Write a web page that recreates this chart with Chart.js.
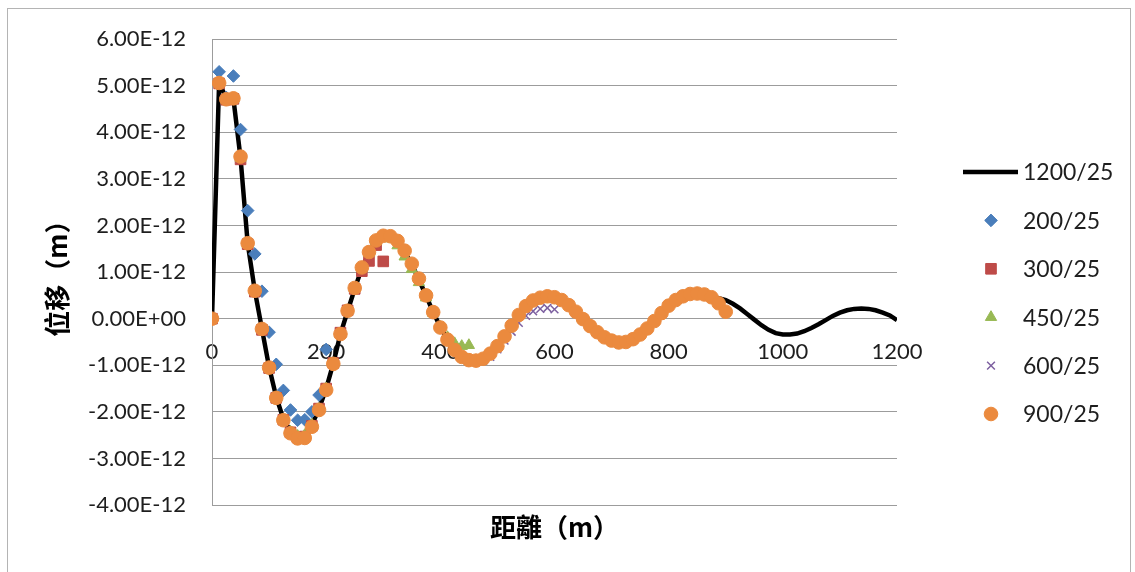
<!DOCTYPE html>
<html>
<head>
<meta charset="utf-8">
<title>位移 - 距離</title>
<script src="https://cdn.jsdelivr.net/npm/chart.js"></script>
<style>
  html, body { margin: 0; padding: 0; background: #fff; overflow: hidden; }
  #wrap { position: relative; width: 1135px; height: 572px; }
</style>
</head>
<body>
<div id="wrap"><canvas id="dispChart" width="1135" height="572"></canvas></div>
<script>
// distance (m) of every sample point, 12.5 m apart
const distance = [0, 12.5, 25, 37.5, 50, 62.5, 75, 87.5, 100, 112.5, 125, 137.5, 150, 162.5, 175, 187.5,
  200, 212.5, 225, 237.5, 250, 262.5, 275, 287.5, 300, 312.5, 325, 337.5, 350, 362.5, 375, 387.5,
  400, 412.5, 425, 437.5, 450, 462.5, 475, 487.5, 500, 512.5, 525, 537.5, 550, 562.5, 575, 587.5,
  600, 612.5, 625, 637.5, 650, 662.5, 675, 687.5, 700, 712.5, 725, 737.5, 750, 762.5, 775, 787.5,
  800, 812.5, 825, 837.5, 850, 862.5, 875, 887.5, 900, 912.5, 925, 937.5, 950, 962.5, 975, 987.5,
  1000, 1012.5, 1025, 1037.5, 1050, 1062.5, 1075, 1087.5, 1100, 1112.5, 1125, 1137.5, 1150, 1162.5,
  1175, 1187.5, 1200];

// displacement values, in units of 1E-12 m
const disp1200 = [0, 5.08, 4.72, 4.72, 3.45, 1.62, 0.60, -0.22, -1.04, -1.68, -2.15, -2.42, -2.50, -2.48, -2.28, -1.93,
  -1.50, -0.96, -0.33, 0.16, 0.64, 1.08, 1.41, 1.65, 1.74, 1.73, 1.63, 1.43, 1.16, 0.84, 0.49, 0.14,
  -0.18, -0.44, -0.65, -0.80, -0.87, -0.88, -0.84, -0.73, -0.57, -0.37, -0.15, 0.07, 0.26, 0.38, 0.44, 0.47,
  0.45, 0.39, 0.28, 0.14, -0.01, -0.16, -0.28, -0.39, -0.46, -0.50, -0.49, -0.43, -0.33, -0.20, -0.05, 0.11,
  0.27, 0.39, 0.47, 0.52, 0.53, 0.52, 0.48, 0.44, 0.40, 0.32, 0.22, 0.10, -0.02, -0.14, -0.24, -0.31,
  -0.34, -0.34, -0.32, -0.27, -0.20, -0.12, -0.03, 0.06, 0.13, 0.18, 0.21, 0.22, 0.21, 0.18,
  0.13, 0.07, -0.03];
const disp200 = [0, 5.30, 4.75, 5.21, 4.06, 2.32, 1.39, 0.59, -0.29, -0.98, -1.54, -1.96, -2.18, -2.17, -2.00, -1.64,
  -0.66];
const disp300 = [0, 5.05, 4.70, 4.72, 3.42, 1.60, 0.58, -0.24, -1.06, -1.70, -2.17, -2.44, -2.55, -2.53, -2.30, -1.93,
  -1.50, -0.95, -0.30, 0.18, 0.64, 1.02, 1.24, 1.58, 1.23];
const disp450 = [0, 5.05, 4.70, 4.72, 3.45, 1.60, 0.60, -0.22, -1.05, -1.69, -2.17, -2.43, -2.52, -2.50, -2.28, -1.94,
  -1.50, -0.96, -0.32, 0.17, 0.65, 1.08, 1.41, 1.66, 1.76, 1.72, 1.57, 1.33, 1.06, 0.78, 0.45, 0.12,
  -0.18, -0.40, -0.53, -0.59, -0.57];
const disp600 = [0, 5.04, 4.72, 4.70, 3.44, 1.62, 0.60, -0.22, -1.04, -1.68, -2.16, -2.44, -2.54, -2.52, -2.30, -1.95,
  -1.51, -0.96, -0.32, 0.16, 0.65, 1.08, 1.41, 1.65, 1.75, 1.74, 1.64, 1.43, 1.15, 0.84, 0.48, 0.13,
  -0.19, -0.45, -0.66, -0.82, -0.90, -0.93, -0.90, -0.82, -0.66, -0.47, -0.28, -0.09, 0.06, 0.16, 0.21, 0.23,
  0.20];
const disp900 = [0, 5.06, 4.71, 4.73, 3.48, 1.62, 0.60, -0.22, -1.05, -1.70, -2.18, -2.46, -2.57, -2.56, -2.32, -1.96,
  -1.53, -0.97, -0.33, 0.17, 0.66, 1.10, 1.43, 1.68, 1.78, 1.77, 1.67, 1.46, 1.18, 0.86, 0.50, 0.14,
  -0.19, -0.45, -0.67, -0.82, -0.89, -0.90, -0.86, -0.75, -0.59, -0.38, -0.15, 0.08, 0.27, 0.39, 0.45, 0.48,
  0.46, 0.40, 0.29, 0.15, -0.01, -0.16, -0.29, -0.40, -0.47, -0.51, -0.50, -0.44, -0.34, -0.21, -0.05, 0.12,
  0.28, 0.40, 0.48, 0.53, 0.54, 0.52, 0.46, 0.33, 0.15];

const seriesNames = ['1200/25', '200/25', '300/25', '450/25', '600/25', '900/25'];
const xTicks = [0, 200, 400, 600, 800, 1000, 1200];
const yTicks = [-4, -3, -2, -1, 0, 1, 2, 3, 4, 5, 6]; // x 1E-12
const E12 = 1e-12;

const GRID = '#9c9c9c';
const TEXT = '#1e1e1e';

function toPoints(values) {
  return values.map((v, i) => ({ x: distance[i], y: v * E12 }));
}

// Excel-like scientific label: 5.00E-12, 0.00E+00
function sciLabel(v) {
  if (Math.abs(v) < 1e-20) return '0.00E+00';
  const parts = v.toExponential(2).split('e');
  const sign = parts[1][0];
  const exp = parts[1].slice(1).padStart(2, '0');
  return parts[0] + 'E' + sign + exp;
}

// frame around the whole chart
const framePlugin = {
  id: 'frame',
  beforeDraw(chart) {
    const ctx = chart.ctx;
    ctx.save();
    ctx.fillStyle = '#ffffff';
    ctx.fillRect(0, 0, chart.width, chart.height);
    ctx.strokeStyle = '#b4b4b4';
    ctx.lineWidth = 1;
    ctx.strokeRect(7.5, 8.5, 1123, 600);
    ctx.restore();
  }
};

// legend on the right, line sample for the first series, markers for the rest
const sideLegend = {
  id: 'sideLegend',
  afterDraw(chart) {
    const ctx = chart.ctx;
    ctx.save();
    ctx.font = '23px Lato, "Open Sans", sans-serif';
    ctx.textBaseline = 'middle';
    ctx.textAlign = 'left';
    chart.data.datasets.forEach((ds, i) => {
      const y = 172 + i * 48.4;
      if (ds.showLine) {
        ctx.strokeStyle = ds.borderColor;
        ctx.lineWidth = ds.borderWidth;
        ctx.beginPath();
        ctx.moveTo(963, y);
        ctx.lineTo(1018, y);
        ctx.stroke();
      } else {
        ctx.fillStyle = ds.pointBackgroundColor;
        ctx.strokeStyle = ds.pointBorderColor;
        ctx.lineWidth = ds.pointBorderWidth;
        Chart.helpers.drawPoint(ctx, {
          pointStyle: ds.pointStyle,
          radius: ds.pointRadius,
          rotation: 0,
          borderWidth: ds.pointBorderWidth
        }, 991, y);
      }
      ctx.fillStyle = TEXT;
      ctx.fillText(ds.label, 1023, y + 1);
    });
    ctx.restore();
  }
};

function markerSet(label, values, style, radius, color, border, order) {
  return {
    label: label,
    data: toPoints(values),
    showLine: false,
    pointStyle: style,
    pointRadius: radius,
    pointHoverRadius: radius,
    pointBackgroundColor: color,
    pointBorderColor: color,
    pointBorderWidth: border,
    order: order
  };
}

const datasets = [
  {
    label: seriesNames[0],
    data: toPoints(disp1200),
    showLine: true,
    borderColor: '#000000',
    borderWidth: 4.5,
    pointRadius: 0,
    tension: 0,
    order: 5
  },
  markerSet(seriesNames[1], disp200, 'rectRot', 6.3, '#4a7ebb', 1, 4),
  markerSet(seriesNames[2], disp300, 'rect', 7.5, '#be4b48', 1, 3),
  markerSet(seriesNames[3], disp450, 'triangle', 6.5, '#98b954', 1, 2),
  markerSet(seriesNames[4], disp600, 'crossRot', 5.5, '#7d60a0', 1.5, 1),
  markerSet(seriesNames[5], disp900, 'circle', 6.8, '#eb8a3e', 1, 0)
];

new Chart(document.getElementById('dispChart'), {
  type: 'scatter',
  data: { datasets: datasets },
  options: {
    responsive: false,
    animation: false,
    events: [],
    layout: { padding: { left: 0, top: 38, right: 238, bottom: 0 } },
    plugins: {
      legend: { display: false },
      tooltip: { enabled: false }
    },
    scales: {
      x: {
        type: 'linear',
        position: { y: 0 },
        min: 0,
        max: 1200,
        afterBuildTicks: (scale) => { scale.ticks = xTicks.map(v => ({ value: v })); },
        afterFit: (scale) => { scale.height = 0; },
        grid: { display: false, drawTicks: false },
        border: { display: false },
        ticks: {
          padding: 20,
          color: TEXT,
          font: { family: 'Lato, "Open Sans", sans-serif', size: 22 },
          maxRotation: 0,
          autoSkip: false,
          callback: (value) => String(value)
        }
      },
      xTitle: {
        type: 'linear',
        position: 'bottom',
        axis: 'x',
        min: 0,
        max: 1200,
        afterFit: (scale) => { scale.height = 67; },
        grid: { display: false, drawTicks: false },
        border: { display: false },
        ticks: { display: false },
        title: {
          display: true,
          text: '距離（m）',
          color: '#000',
          font: { family: '"Noto Sans CJK TC", "Noto Sans CJK SC", sans-serif', size: 26, weight: 'bold' },
          padding: { top: 0, bottom: 29 }
        }
      },
      y: {
        type: 'linear',
        position: 'left',
        min: yTicks[0] * E12,
        max: yTicks[yTicks.length - 1] * E12,
        afterBuildTicks: (scale) => { scale.ticks = yTicks.map(v => ({ value: v * E12 })); },
        afterFit: (scale) => { scale.width = 212; },
        grid: { color: GRID, lineWidth: 1, drawTicks: false },
        border: { display: true, color: GRID, width: 1 },
        ticks: {
          padding: 26,
          color: TEXT,
          font: { family: 'Lato, "Open Sans", sans-serif', size: 22 },
          callback: (value) => sciLabel(value)
        },
        title: {
          display: true,
          text: '位移（m）',
          color: '#000',
          font: { family: '"Noto Sans CJK TC", "Noto Sans CJK SC", sans-serif', size: 26, weight: 'bold' },
          padding: { top: 42, bottom: 0 }
        }
      }
    }
  },
  plugins: [framePlugin, sideLegend]
});
</script>
</body>
</html>
